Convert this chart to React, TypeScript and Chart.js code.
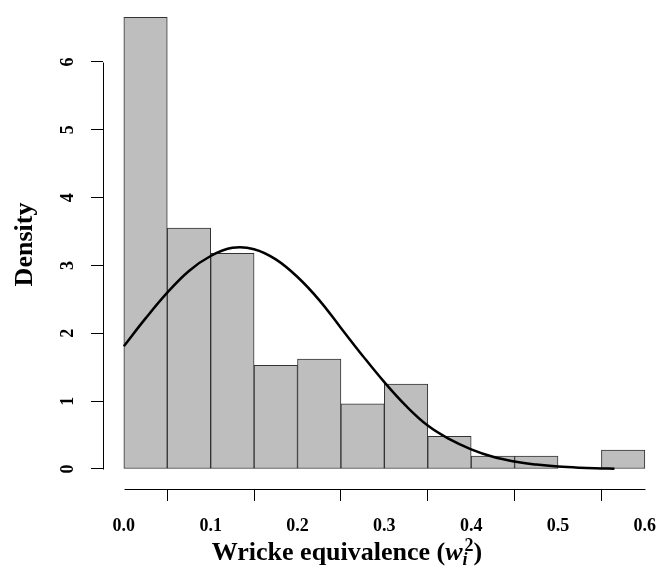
import React, { useEffect, useRef } from "react";
import { Chart, registerables } from "chart.js";

Chart.register(...registerables);

// Histogram bins (left edges) and densities
const binStarts = [0, 0.05, 0.1, 0.15, 0.2, 0.25, 0.3, 0.35, 0.4, 0.45, 0.5, 0.55];
const binWidth = 0.05;
const densities = [6.66, 3.55, 3.18, 1.53, 1.62, 0.96, 1.25, 0.48, 0.19, 0.19, 0, 0.28];

// Fitted density curve
const curveX = [0, 0.025, 0.05, 0.075, 0.1, 0.125, 0.15, 0.175, 0.2, 0.225, 0.25, 0.275, 0.3, 0.325, 0.35, 0.375, 0.4, 0.425, 0.45, 0.475, 0.5, 0.525, 0.55, 0.565];
const curveY = [1.81, 2.22, 2.6, 2.92, 3.14, 3.26, 3.24, 3.09, 2.83, 2.49, 2.08, 1.67, 1.28, 0.93, 0.64, 0.44, 0.29, 0.18, 0.11, 0.065, 0.035, 0.018, 0.009, 0.005];

// Axis ticks
const yTicks = [0, 1, 2, 3, 4, 5, 6];
const yTickLabels = ["0", "1", "2", "3", "4", "5", "6"];
const xTicks = [0, 0.1, 0.2, 0.3, 0.4, 0.5, 0.6];
const xTickLabels = ["0.0", "0.1", "0.2", "0.3", "0.4", "0.5", "0.6"];

const yTitle = "Density";
const xTitleMain = "Wricke equivalence (";
const xTitleVar = "w";
const xTitleSub = "i";
const xTitleSup = "2";
const xTitleEnd = ")";

const FONT = '"Liberation Serif", "Times New Roman", serif';

const rAxesPlugin = {
  id: "rAxes",
  afterDraw(chart: any) {
    const ctx = chart.ctx;
    const xs = chart.scales.x;
    const ys = chart.scales.y;
    ctx.save();
    ctx.strokeStyle = "#000000";
    ctx.lineWidth = 1;
    // y axis line from first to last tick
    const ax = Math.round(ys.right) + 0.5;
    const y0 = Math.round(ys.getPixelForValue(yTicks[0])) + 0.5;
    const y1 = Math.round(ys.getPixelForValue(yTicks[yTicks.length - 1])) + 0.5;
    ctx.beginPath();
    ctx.moveTo(ax, y0);
    ctx.lineTo(ax, y1);
    ctx.stroke();
    // x axis line
    const ay = Math.round(xs.top) + 0.5;
    ctx.beginPath();
    ctx.moveTo(Math.round(xs.getPixelForValue(xTicks[0])) + 0.5, ay);
    ctx.lineTo(Math.round(xs.getPixelForValue(xTicks[xTicks.length - 1])) + 0.5, ay);
    ctx.stroke();

    // x title with italic variable, subscript and superscript
    const big = 26;
    const small = 18;
    const fMain = `bold ${big}px ${FONT}`;
    const fVar = `italic bold ${big}px ${FONT}`;
    const fSub = `italic bold ${small}px ${FONT}`;
    const fSup = `bold ${small}px ${FONT}`;
    ctx.fillStyle = "#000";
    ctx.textBaseline = "alphabetic";
    ctx.textAlign = "left";
    ctx.font = fMain;
    const w1 = ctx.measureText(xTitleMain).width;
    const w4 = ctx.measureText(xTitleEnd).width;
    ctx.font = fVar;
    const w2 = ctx.measureText(xTitleVar).width;
    ctx.font = fSub;
    const w3a = ctx.measureText(xTitleSub).width;
    ctx.font = fSup;
    const w3b = ctx.measureText(xTitleSup).width;
    const w3 = Math.max(w3a, w3b + 2);
    const total = w1 + w2 + w3 + w4;
    const cx = 347;
    const baseY = 560;
    let px = cx - total / 2;
    ctx.font = fMain;
    ctx.fillText(xTitleMain, px, baseY);
    px += w1;
    ctx.font = fVar;
    ctx.fillText(xTitleVar, px, baseY);
    px += w2;
    ctx.font = fSub;
    ctx.fillText(xTitleSub, px, baseY + 5);
    ctx.font = fSup;
    ctx.fillText(xTitleSup, px + 2, baseY - 9);
    px += w3;
    ctx.font = fMain;
    ctx.fillText(xTitleEnd, px, baseY);
    ctx.restore();
  },
};

const zeroPad = (scale: any) => {
  scale.paddingTop = 0;
  scale.paddingBottom = 0;
  scale.paddingLeft = 0;
  scale.paddingRight = 0;
};

export default function App() {
  const canvasRef = useRef<HTMLCanvasElement | null>(null);

  useEffect(() => {
    document.body.style.margin = "0";
    const canvas = canvasRef.current;
    if (!canvas) return;

    const barData = binStarts.map((s, i) => ({ x: s + binWidth / 2, y: densities[i] }));
    const lineData = curveX.map((x, i) => ({ x, y: curveY[i] }));

    const chart = new Chart(canvas, {
      type: "bar",
      data: {
        datasets: [
          {
            type: "line",
            data: lineData,
            borderColor: "#000",
            borderWidth: 2.5,
            pointRadius: 0,
            fill: false,
            tension: 0.4,
            order: 0,
          } as any,
          {
            type: "bar",
            data: barData,
            backgroundColor: "#bebebe",
            borderColor: "#333333",
            borderWidth: 1,
            borderSkipped: false,
            barPercentage: 1,
            categoryPercentage: 1,
            order: 1,
          } as any,
        ],
      },
      options: {
        animation: false,
        responsive: false,
        layout: { padding: 0 },
        plugins: {
          legend: { display: false },
          tooltip: { enabled: false },
        },
        scales: {
          x: {
            type: "linear",
            min: -0.024,
            max: 0.6163,
            offset: false,
            afterBuildTicks: (scale: any) => {
              scale.ticks = xTicks.map((v) => ({ value: v }));
            },
            afterFit: (scale: any) => {
              scale.height = 94;
              zeroPad(scale);
            },
            grid: {
              display: true,
              drawOnChartArea: false,
              drawTicks: true,
              tickLength: 12,
              color: "#000",
              lineWidth: 1,
            },
            border: { display: false },
            ticks: {
              autoSkip: false,
              maxRotation: 0,
              minRotation: 0,
              padding: 15,
              color: "#000",
              font: { family: FONT, size: 18, weight: "bold" },
              callback: (_v: any, i: number) => xTickLabels[i],
            },
          },
          y: {
            type: "linear",
            min: -0.295,
            max: 6.914,
            afterBuildTicks: (scale: any) => {
              scale.ticks = yTicks.map((v) => ({ value: v }));
            },
            afterFit: (scale: any) => {
              scale.width = 103;
              zeroPad(scale);
            },
            grid: {
              display: true,
              drawOnChartArea: false,
              drawTicks: true,
              tickLength: 12,
              color: "#000",
              lineWidth: 1,
            },
            border: { display: false },
            title: {
              display: true,
              text: yTitle,
              color: "#000",
              font: { family: FONT, size: 26, weight: "bold" },
              padding: { top: 10, bottom: 0 },
            },
            ticks: {
              autoSkip: false,
              minRotation: 90,
              maxRotation: 90,
              crossAlign: "center",
              padding: 18,
              color: "#000",
              font: { family: FONT, size: 18, weight: "bold" },
              callback: (_v: any, i: number) => yTickLabels[i],
            },
          },
        },
      },
      plugins: [rAxesPlugin],
    });

    return () => chart.destroy();
  }, []);

  return (
    <div style={{ width: 659, height: 583 }}>
      <canvas ref={canvasRef} width={659} height={583} style={{ display: "block" }} />
    </div>
  );
}
